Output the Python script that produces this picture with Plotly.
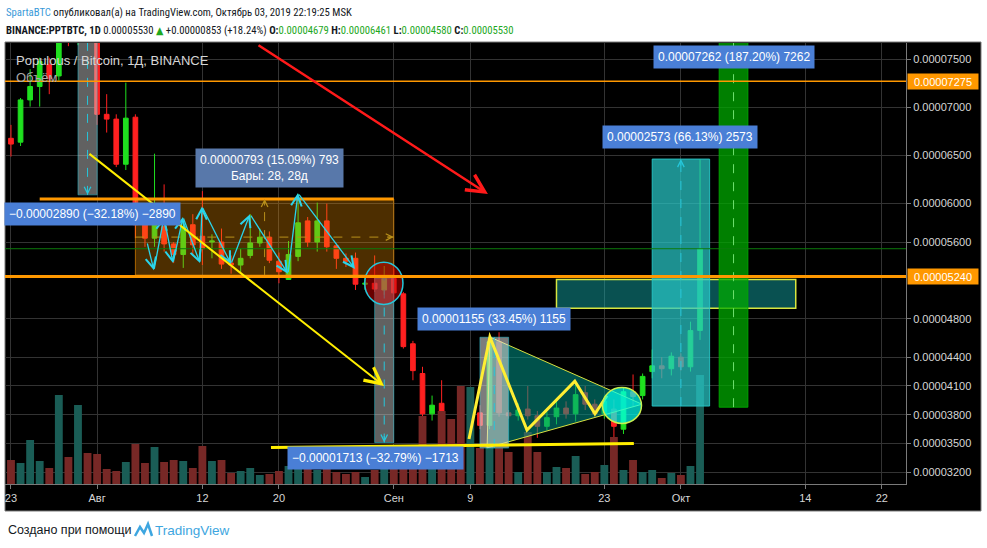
import plotly.graph_objects as go
import pandas as pd

# ---------------- data (prices in satoshi = 1e-8 BTC) ----------------
dates = pd.date_range("2019-07-23", "2019-10-03", freq="D")

open_sat = [
    6680, 6640, 7080, 7220, 7450, 7330, 7850, 7740, 7830,            # Jul 23-31
    7800, 6930, 6880, 6410, 6900, 5780, 5640, 5760, 5580, 5470,      # Aug 1-10
    5780, 5660, 5600, 5600, 5380, 5360, 5460, 5590, 5650, 5400,      # Aug 11-20
    5210, 5450, 5820, 5600, 5820, 5560, 5430, 5430, 5160, 5170, 5100,  # Aug 21-31
    5220, 5060, 4540, 4230, 3810, 3920, 3600, 3520, 3490, 3820,      # Sep 1-10
    3690, 4560, 3820, 3790, 3860, 3790, 3680, 3780, 3870, 3810,      # Sep 11-20
    4030, 3910, 3810, 3860, 3650, 4040, 4000, 4250, 4310, 4280,      # Sep 21-30
    4400, 4300, 4679]                                                # Oct 1-3
high_sat = [
    6820, 7100, 7400, 7520, 7520, 8050, 7950, 7900, 7900,
    7850, 7140, 6930, 7260, 6930, 5920, 6520, 6200, 5600, 5820,
    5890, 6130, 5680, 5740, 5460, 5530, 5890, 5740, 5710, 5490,
    5610, 6100, 5860, 6010, 6000, 5580, 5480, 5490, 5240, 5460, 5350,
    5320, 5080, 4570, 4300, 4000, 4160, 3650, 3560, 4000, 3900,
    4640, 4660, 3850, 3920, 4100, 3840, 3830, 3960, 3940, 4150,
    4100, 3960, 4000, 3960, 4080, 4220, 4230, 4480, 4400, 4450,
    4440, 4770, 6461]
low_sat = [
    6490, 6600, 7010, 7010, 7140, 7280, 7640, 7650, 7720,
    6820, 6740, 6380, 6350, 5640, 5550, 5550, 5500, 5380, 5330,
    5460, 5360, 5430, 5320, 5270, 5280, 5430, 5550, 5380, 5170,
    5210, 5400, 5550, 5500, 5500, 5320, 5340, 5100, 5100, 5080, 5050,
    5000, 4490, 4160, 3750, 3740, 3500, 3480, 3460, 3460, 3650,
    3650, 3780, 3760, 3740, 3750, 3560, 3640, 3700, 3760, 3730,
    3850, 3780, 3760, 3350, 3600, 3880, 3960, 4180, 4180, 4210,
    4260, 4250, 4580]
close_sat = [
    6620, 7080, 7220, 7480, 7300, 7900, 7740, 7820, 7800,
    6930, 6880, 6410, 6890, 5780, 5640, 5780, 5580, 5470, 5760,
    5570, 5530, 5610, 5370, 5360, 5430, 5590, 5650, 5410, 5290,
    5470, 5800, 5600, 5820, 5550, 5430, 5400, 5160, 5170, 5110, 5220,
    5070, 4510, 4260, 3810, 3900, 3580, 3520, 3490, 3820, 3690,
    4560, 3820, 3790, 3850, 3790, 3680, 3770, 3870, 3810, 4010,
    3910, 3810, 3940, 3680, 4040, 3990, 4200, 4310, 4280, 4410,
    4300, 4677, 5530]
volume_k = [
    480, 420, 880, 460, 320, 1780, 540, 1580, 620,
    600, 300, 260, 440, 800, 420, 740, 440, 480, 460,
    320, 760, 460, 480, 220, 260, 320, 180, 200, 260,
    360, 400, 320, 280, 340, 240, 200, 240, 140, 280, 300,
    620, 620, 620, 1360, 500, 1460, 1300, 1960, 1940, 720,
    800, 720, 640, 240, 1040, 640, 240, 340, 320, 560,
    200, 240, 380, 940, 280, 480, 240, 280, 120, 220,
    180, 360, 2180]

price_ticks = [3200, 3500, 3800, 4100, 4400, 4800, 5600, 6000, 6500, 7000, 7500]
date_ticks = ["2019-07-23", "2019-08-01", "2019-08-12", "2019-08-20", "2019-09-01",
              "2019-09-09", "2019-09-23", "2019-10-01", "2019-10-14", "2019-10-22"]
date_ticktext = ["23", "Авг", "12", "20", "Сен", "9", "23", "Окт", "14", "22"]

# drawing levels (satoshi)
level_hi, level_lo = 7275, 5240

# drawing anchor points (date, satoshi)
cyan_zigzag = [("2019-08-06 05:00", 5600), ("2019-08-06 22:30", 5305), ("2019-08-07 23:40", 5860),
               ("2019-08-08 22:20", 5380), ("2019-08-09 23:20", 5860), ("2019-08-11 18:00", 5380),
               ("2019-08-11 23:00", 5970), ("2019-08-14 23:45", 5370), ("2019-08-16 23:20", 5890),
               ("2019-08-20 22:40", 5270), ("2019-08-21 23:45", 6110), ("2019-08-27 22:40", 5320)]
yellow_zigzag = [("2019-09-08 20:40", 3547), ("2019-09-11 01:00", 4610), ("2019-09-14 22:00", 3640),
                 ("2019-09-19 22:00", 4150), ("2019-09-22 00:30", 3810), ("2019-09-23 06:40", 4000)]
triangle = [("2019-09-11 01:00", 4610), ("2019-09-26 22:30", 3910), ("2019-09-10 18:00", 3456)]

SAT = 1e-8
to_btc = lambda v: [x * SAT for x in v]

# ---------------- styling ----------------
UP, DOWN = "#1fe01f", "#ff2020"
VOL_UP, VOL_DOWN = "#1a5d56", "#772826"
GRID = "#333333"
AX_TXT = "#d6d6d6"
ORANGE = "#ff9800"
BLUE_LBL = "#4a7fd6"
FONT_AX = "Liberation Sans, Arial, sans-serif"
FONT_HDR = "Liberation Sans Narrow, Arial Narrow, Roboto Condensed, DejaVu Sans Condensed, sans-serif"

# plot box in page pixels, used for placing page texts
PL, PR, PT, PB = 5, 906, 43, 484
def xp(px):
    return (px - PL) / (PR - PL)
def yp(py):
    return (PB - py) / (PB - PT)

fig = go.Figure()

vol_colors = [VOL_UP if c >= o else VOL_DOWN for o, c in zip(open_sat, close_sat)]
fig.add_trace(go.Bar(
    x=dates, y=volume_k, yaxis="y2", width=0.82 * 86400000,
    marker=dict(color=vol_colors, line_width=0), hoverinfo="skip"))

fig.add_trace(go.Candlestick(
    x=dates, open=to_btc(open_sat), high=to_btc(high_sat),
    low=to_btc(low_sat), close=to_btc(close_sat),
    increasing=dict(line=dict(color=UP, width=1), fillcolor=UP),
    decreasing=dict(line=dict(color=DOWN, width=1), fillcolor=DOWN),
    whiskerwidth=0, hoverinfo="skip"))


def rect(x0, x1, y0, y1, fill, line_color, lw=1):
    return dict(type="rect", xref="x", yref="y", x0=x0, x1=x1, y0=y0 * SAT, y1=y1 * SAT,
                fillcolor=fill, line=dict(color=line_color, width=lw), layer="above")


def seg(x0, y0, x1, y1, color, width, dash="solid"):
    return dict(type="line", xref="x", yref="y", x0=x0, x1=x1, y0=y0 * SAT, y1=y1 * SAT,
                line=dict(color=color, width=width, dash=dash), layer="above")


def hline(y, color, width):
    return dict(type="line", xref="paper", yref="y", x0=0, x1=1, y0=y * SAT, y1=y * SAT,
                line=dict(color=color, width=width), layer="above")


def path_of(points, close=False):
    p = " ".join(("M" if i == 0 else "L") + f" {d.replace(' ', '_')},{v * SAT:.10f}"
                 for i, (d, v) in enumerate(points))
    return p + (" Z" if close else "")


shapes = [
    # chart frame (page coords)
    dict(type="rect", xref="paper", yref="paper", x0=xp(5), x1=xp(981), y0=yp(511), y1=yp(42),
         fillcolor="black", line=dict(color="#7a7a7a", width=1), layer="below"),
    # price range box (28 bars)
    rect("2019-08-05", "2019-09-01", 5255, 6048, "rgba(255,152,0,0.30)", "rgba(255,152,0,0.6)"),
    seg("2019-08-05", 5651, "2019-09-01", 5651, "#b8901a", 1, "dash"),
    seg("2019-08-18 12:00", 5255, "2019-08-18 12:00", 6048, "#b8901a", 1, "dash"),
    seg("2019-07-26", 6048, "2019-09-01", 6048, ORANGE, 3),
    # measurement rectangles
    rect("2019-07-30", "2019-08-01", 6091, 8981, "rgba(215,215,215,0.45)", "rgba(38,198,218,0.5)"),
    seg("2019-07-31", 6091, "2019-07-31", 8981, "#26c6da", 1, "dash"),
    rect("2019-08-30", "2019-09-01", 3511, 5224, "rgba(215,215,215,0.45)", "rgba(38,198,218,0.5)"),
    seg("2019-08-31", 3511, "2019-08-31", 5224, "#26c6da", 1, "dash"),
    dict(type="path", xref="x", yref="y", path=path_of(triangle, close=True),
         fillcolor="rgba(0,150,136,0.55)", line=dict(color="#d8e040", width=1), layer="above"),
    rect("2019-09-10", "2019-09-13", 3453, 4608, "rgba(225,225,225,0.55)", "rgba(38,198,218,0.5)"),
    seg("2019-09-11 12:00", 3453, "2019-09-11 12:00", 4608, "#26c6da", 1, "dash"),
    rect("2019-09-18", "2019-10-13", 4910, 5210, "rgba(20,180,180,0.45)", "#d8e640", 1.5),
    rect("2019-09-28", "2019-10-04", 3891, 6464, "rgba(40,200,200,0.72)", "rgba(40,200,200,0.9)"),
    seg("2019-10-01", 3891, "2019-10-01", 6464, "#26c6da", 1, "dash"),
    rect("2019-10-05", "2019-10-08", 3879, 11141, "rgba(0,170,0,0.75)", "rgba(0,170,0,0.9)"),
    seg("2019-10-06 12:00", 3879, "2019-10-06 12:00", 11141, "#6fe06f", 1, "dash"),
    # circles
    dict(type="circle", xref="x", yref="y", x0="2019-08-28 23:00", x1="2019-09-01 23:00",
         y0=4950 * SAT, y1=5390 * SAT, fillcolor="rgba(210,0,0,0.5)",
         line=dict(color="#26c6da", width=1.5), layer="above"),
    # levels
    hline(level_hi, ORANGE, 1.5),
    hline(level_lo, ORANGE, 3),
    hline(close_sat[-1], "#0c7a0c", 1),
    # yellow support line and zigzag
    seg("2019-08-19 04:00", 3460, "2019-09-26 02:00", 3500, "#ffee00", 3),
    dict(type="path", xref="x", yref="y", path=path_of(yellow_zigzag),
         line=dict(color="#ffee33", width=3), layer="above"),
    dict(type="circle", xref="x", yref="y", x0="2019-09-22 19:20", x1="2019-09-26 21:10",
         y0=3710 * SAT, y1=4085 * SAT, fillcolor="rgba(0,255,240,0.72)",
         line=dict(color="#c8f050", width=1.5), layer="above"),
    # logo in footer
    dict(type="path", xref="paper", yref="paper",
         path=f"M {xp(135)},{yp(536)} L {xp(140)},{yp(527)} L {xp(144)},{yp(533)} "
              f"L {xp(148)},{yp(524)} L {xp(152)},{yp(536)}",
         line=dict(color="#3ea6e0", width=2.5)),
]


def arrow(tail, head, color, width, headstyle=5, size=1.4):
    return dict(x=head[0], y=head[1] * SAT, ax=tail[0], ay=tail[1] * SAT,
                xref="x", yref="y", axref="x", ayref="y", text="", showarrow=True,
                arrowhead=headstyle, arrowsize=size, arrowwidth=width, arrowcolor=color,
                standoff=0, startstandoff=0)


def chevron(x, y, dx, dy, color):
    return dict(x=x, y=y * SAT, xref="x", yref="y", ax=dx, ay=dy, text="", showarrow=True,
                arrowhead=5, arrowsize=1.3, arrowwidth=1, arrowcolor=color, standoff=0)


def label(x, y, text, bg=BLUE_LBL):
    return dict(x=x, y=y * SAT, xref="x", yref="y", text=text, showarrow=False,
                bgcolor=bg, borderpad=4, font=dict(color="white", size=12, family=FONT_AX))


annotations = []
for a, b in zip(cyan_zigzag[:-1], cyan_zigzag[1:]):
    annotations.append(arrow(a, b, "#2ad4ea", 1.3, 5, 1.6))
annotations += [
    arrow(("2019-08-17 17:00", 7660), ("2019-09-10 20:00", 6100), "#ff1a1a", 2.5, 5, 1.4),
    arrow(("2019-07-31 01:00", 6530), ("2019-08-30 23:30", 4100), "#ffee00", 2, 5, 1.6),
    chevron("2019-09-01", 5651, -8, 0, "#b8901a"),
    chevron("2019-08-18 12:00", 6048, 0, 8, "#b8901a"),
    chevron("2019-07-31", 6091, 0, -8, "#26c6da"),
    chevron("2019-08-31", 3511, 0, -8, "#26c6da"),
    chevron("2019-10-01", 6464, 0, 8, "#26c6da"),
    label("2019-07-31 13:40", 5890, "\u22120.00002890 (\u221232.18%) \u22122890"),
    label("2019-08-19 01:30", 6375, "0.00000793 (15.09%) 793<br>Бары: 28, 28д", "#5878aa"),
    label("2019-08-30 01:00", 3350, "\u22120.00001713 (\u221232.79%) \u22121713"),
    label("2019-09-11 11:00", 4800, "0.00001155 (33.45%) 1155"),
    label("2019-09-30 22:00", 6690, "0.00002573 (66.13%) 2573"),
    label("2019-10-06 13:00", 7525, "0.00007262 (187.20%) 7262"),
]

# price-axis level labels
for lvl in (level_hi, level_lo):
    annotations.append(dict(
        x=xp(907), y=lvl * SAT, xref="paper", yref="y", xanchor="left", yanchor="middle",
        text=f"{lvl * SAT:.8f}", showarrow=False, bgcolor=ORANGE, width=68, height=13,
        borderpad=1, font=dict(color="white", size=11, family=FONT_AX)))

# header / overlay / footer texts
c, pc = close_sat[-1], close_sat[-2]
GRN = "#1ea81e"
hdr2 = (f"<b>BINANCE:PPTBTC, 1D</b> {c * SAT:.8f} <span style='color:{GRN}'>▲</span> "
        f"+{(c - pc) * SAT:.8f} (+{(c - pc) / pc * 100:.2f}%) "
        f"<b>O:</b><span style='color:{GRN}'>{open_sat[-1] * SAT:.8f}</span> "
        f"<b>H:</b><span style='color:{GRN}'>{high_sat[-1] * SAT:.8f}</span> "
        f"<b>L:</b><span style='color:{GRN}'>{low_sat[-1] * SAT:.8f}</span> "
        f"<b>C:</b><span style='color:{GRN}'>{c * SAT:.8f}</span>")
texts = [
    (4, 12, "<span style='color:#3a9ad9'>SpartaBTC</span> опубликовал(а) на TradingView.com, "
            "Октябрь 03, 2019 22:19:25 MSK", "#131722", FONT_HDR, 10.7),
    (4, 31, hdr2, "#131722", FONT_HDR, 10.7),
    (14, 60, "Populous / Bitcoin, 1Д, BINANCE", "#d6d6d6", FONT_AX, 13),
    (14, 77, "Объём", "#aaaaaa", FONT_AX, 13),
    (6, 530, "Создано при помощи", "#131722", FONT_AX, 12.5),
    (153, 530, "TradingView", "#3ea6e0", FONT_AX, 13.5),
]
for x, y, t, col, fam, sz in texts:
    annotations.append(dict(x=xp(x), y=yp(y), xref="paper", yref="paper", xanchor="left",
                            yanchor="middle", text=t, showarrow=False,
                            font=dict(color=col, family=fam, size=sz)))

fig.update_layout(
    width=987, height=548,
    margin=dict(l=PL, r=987 - PR, t=PT, b=548 - PB),
    paper_bgcolor="white", plot_bgcolor="black",
    showlegend=False, hovermode=False,
    xaxis=dict(
        type="date", range=["2019-07-22 09:00", "2019-10-24 12:30"],
        rangeslider=dict(visible=False),
        tickvals=date_ticks, ticktext=date_ticktext,
        showgrid=True, gridcolor=GRID, gridwidth=1, zeroline=False,
        ticks="outside", ticklen=4, tickcolor="#7a7a7a",
        showline=True, linecolor="#7a7a7a", linewidth=1,
        tickfont=dict(color=AX_TXT, size=11, family=FONT_AX)),
    yaxis=dict(
        side="right", range=[3079 * SAT, 7673 * SAT],
        tickvals=to_btc(price_ticks), tickformat=".8f",
        showgrid=True, gridcolor=GRID, gridwidth=1, zeroline=False,
        ticks="outside", ticklen=4, tickcolor="#7a7a7a",
        showline=True, linecolor="#7a7a7a", linewidth=1,
        tickfont=dict(color=AX_TXT, size=11, family=FONT_AX)),
    yaxis2=dict(overlaying="y", range=[0, 8820], visible=False),
    shapes=shapes,
    annotations=annotations,
)

fig.write_html("out.html", config={"displayModeBar": False},
               post_script="document.body.style.margin='0';")
